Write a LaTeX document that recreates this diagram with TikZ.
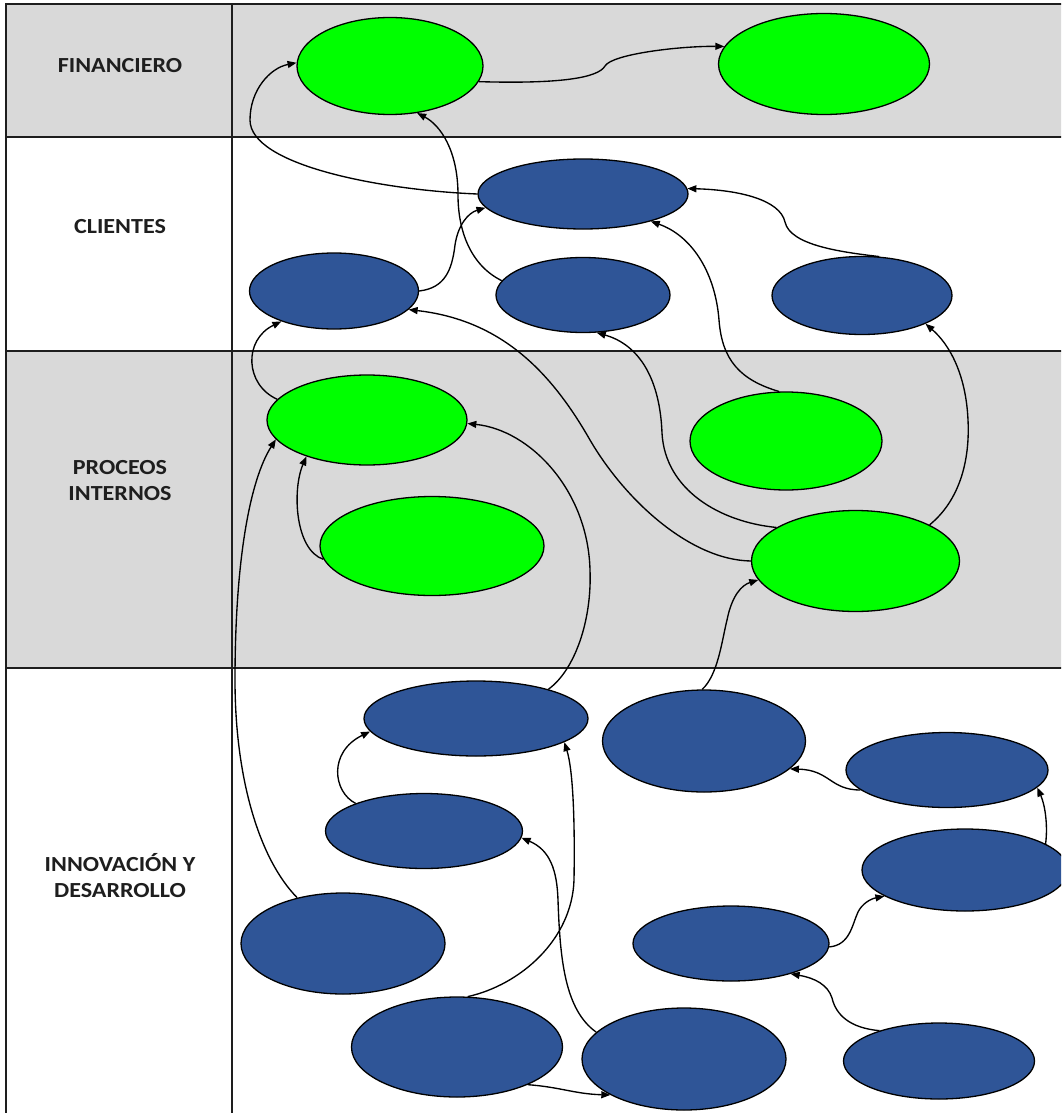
\documentclass[tikz,border=0pt]{standalone}
\usepackage{fontspec}
\setmainfont{Carlito}
\usetikzlibrary{shapes.geometric,arrows.meta}
\definecolor{bandgray}{HTML}{D9D9D9}
\definecolor{goalgreen}{HTML}{00FF00}
\definecolor{goalblue}{HTML}{2F5597}
\definecolor{inkc}{HTML}{1E1E1E}
\tikzset{
  goal/.style={ellipse, draw=black, line width=1.3pt, inner sep=0pt},
  gnode/.style={goal, fill=goalgreen},
  bnode/.style={goal, fill=goalblue},
  link/.style={-{Triangle[length=9pt,width=7pt]}, line width=1.35pt, black},
  rule/.style={line width=2.2pt, draw=inkc},
  lab/.style={align=center, text=inkc, font=\fontsize{21.5}{26}\selectfont\bfseries}
}
\begin{document}
\begin{tikzpicture}[x=1pt,y=-1pt]
\useasboundingbox (0,0) rectangle (1061,1113);
\begin{scope}
\clip (0,0) rectangle (1061,1113);
% bands
\fill[white] (0,0) rectangle (1061,1113);
\fill[bandgray] (6,4) rectangle (1075,137);
\fill[bandgray] (6,351) rectangle (1075,668);
% grid
\draw[rule] (6,1125) -- (6,4) -- (1075,4);
\draw[rule] (232,4) -- (232,1125);
\draw[rule] (6,137) -- (1075,137);
\draw[rule] (6,351) -- (1075,351);
\draw[rule] (6,668) -- (1075,668);
% labels
\node[lab] (lf) at (120,66) {\scalebox{1.12}[1]{FINANCIERO}};
\node[lab] (lc) at (120,227) {\scalebox{1.12}[1]{CLIENTES}};
\node[lab] (lp) at (120,481) {\scalebox{1.12}[1]{PROCEOS}\\\scalebox{1.12}[1]{INTERNOS}};
\node[lab] (li) at (120,876) {\scalebox{1.12}[1]{INNOVACIÓN Y}\\\scalebox{1.12}[1]{DESARROLLO}};
% financiero
\node[gnode, minimum width=186pt, minimum height=97pt] (F1) at (390,66) {};
\node[gnode, minimum width=211pt, minimum height=101pt] (F2) at (824,64) {};
% clientes
\node[bnode, minimum width=210pt, minimum height=70pt] (C1) at (583,194) {};
\node[bnode, minimum width=169pt, minimum height=76pt] (C2) at (334,291) {};
\node[bnode, minimum width=174pt, minimum height=75pt] (C3) at (583,295) {};
\node[bnode, minimum width=180pt, minimum height=78pt] (C4) at (862,295.5) {};
% procesos
\node[gnode, minimum width=200pt, minimum height=90pt] (P1) at (367,420) {};
\node[gnode, minimum width=224pt, minimum height=99pt] (P2) at (432,546) {};
\node[gnode, minimum width=192pt, minimum height=98pt] (P3) at (786,441) {};
\node[gnode, minimum width=208pt, minimum height=101pt] (P4) at (855.5,561) {};
% innovacion
\node[bnode, minimum width=224pt, minimum height=75pt] (I1) at (476,718.5) {};
\node[bnode, minimum width=203pt, minimum height=102pt] (I2) at (704,741) {};
\node[bnode, minimum width=202pt, minimum height=75pt] (I3) at (947,770) {};
\node[bnode, minimum width=197pt, minimum height=75pt] (I4) at (424,831) {};
\node[bnode, minimum width=206pt, minimum height=82pt] (I5) at (965,870) {};
\node[bnode, minimum width=204pt, minimum height=101pt] (I6) at (343,943.5) {};
\node[bnode, minimum width=196pt, minimum height=75pt] (I7) at (731,943.5) {};
\node[bnode, minimum width=211pt, minimum height=100pt] (I8) at (457,1047) {};
\node[bnode, minimum width=204pt, minimum height=102pt] (I9) at (684,1059) {};
\node[bnode, minimum width=191pt, minimum height=76pt] (I10) at (939,1061) {};
% connectors
\draw[link] (F1.-10) .. controls (560,84) and (598,78) .. (605,66) .. controls (612,54) and (680,46) .. (F2.170);
\draw[link] (C1.west) .. controls (380,190) and (250,165) .. (250,120) .. controls (250,90) and (270,68) .. (F1.178);
\draw[link] (C3.170) .. controls (470,265) and (458,230) .. (458,195) .. controls (458,150) and (440,125) .. (F1.-60);
\draw[link] (C2.east) .. controls (445,288) and (452,270) .. (455,245) .. controls (458,225) and (468,213) .. (C1.188);
\draw[link] (C4.66) .. controls (840,252) and (790,245) .. (785,222) .. controls (780,200) and (740,190) .. (C1.3);
\draw[link] (P3.98) .. controls (740,380) and (722,360) .. (719,320) .. controls (715,270) and (690,235) .. (C1.-22);
\draw[link] (P4.157) .. controls (720,522) and (665,490) .. (662,433) .. controls (660,380) and (640,345) .. (C3.-70);
\draw[link] (P4.180) .. controls (690,560) and (625,500) .. (590,440) .. controls (550,370) and (500,320) .. (C2.-14);
\draw[link] (P4.26) .. controls (960,500) and (970,460) .. (968,420) .. controls (966,375) and (950,345) .. (C4.-24);
\draw[link] (P1.167) .. controls (245,385) and (243,340) .. (C2.210);
\draw[link] (P2.187) .. controls (295,550) and (292,490) .. (P1.211);
\draw[link] (I6.135) .. controls (260,860) and (235,780) .. (235,680) .. controls (235,560) and (250,480) .. (P1.192);
\draw[link] (I1.22) .. controls (575,670) and (592,620) .. (590,570) .. controls (588,490) and (530,430) .. (P1.-2);
\draw[link] (I2.92) .. controls (718,675) and (722,640) .. (727,620) .. controls (732,595) and (742,585) .. (P4.191);
\draw[link] (I4.158) .. controls (333,792) and (328,752) .. (I1.187);
\draw[link] (I3.193) .. controls (830,790) and (830,770) .. (I2.-18);
\draw[link] (I5.18) .. controls (1048,825) and (1045,805) .. (I3.-11);
\draw[link] (I7.-2) .. controls (850,945) and (852,925) .. (858,912) .. controls (862,904) and (870,899) .. (I5.198);
\draw[link] (I10.153) .. controls (850,1028) and (836,1015) .. (832,998) .. controls (828,985) and (815,978) .. (I7.-27);
\draw[link] (I9.163) .. controls (565,1010) and (560,960) .. (558,900) .. controls (557,870) and (550,850) .. (I4.-4);
\draw[link] (I8.78) .. controls (520,985) and (572,940) .. (574,880) .. controls (575,820) and (573,770) .. (I1.-15);
\draw[link] (I8.-28) .. controls (560,1087) and (575,1094) .. (I9.206);
\end{scope}
\end{tikzpicture}
\end{document}
